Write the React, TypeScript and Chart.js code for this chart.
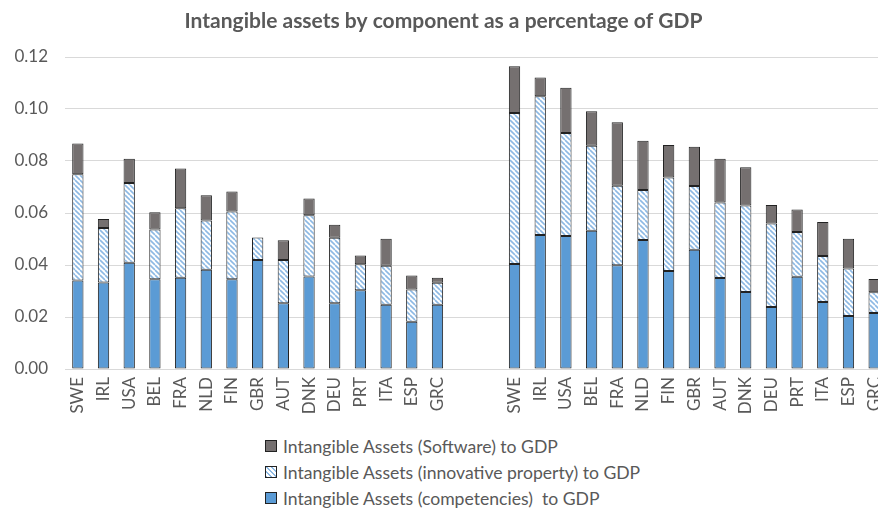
import React, { useEffect, useRef } from "react";
import { Chart, registerables } from "chart.js";

Chart.register(...registerables);

const countries = ["SWE", "IRL", "USA", "BEL", "FRA", "NLD", "FIN", "GBR", "AUT", "DNK", "DEU", "PRT", "ITA", "ESP", "GRC"];
const gapLabels = ["", ""];

// Left group
const compLeft = [0.0340, 0.0333, 0.0409, 0.0345, 0.0351, 0.0382, 0.0345, 0.0419, 0.0253, 0.0356, 0.0253, 0.0303, 0.0247, 0.0182, 0.0247];
const innovLeft = [0.0409, 0.0209, 0.0306, 0.0192, 0.0267, 0.0189, 0.0261, 0.0087, 0.0166, 0.0235, 0.0252, 0.0100, 0.0150, 0.0124, 0.0085];
const softLeft = [0.0118, 0.0035, 0.0094, 0.0066, 0.0153, 0.0097, 0.0077, 0.0000, 0.0076, 0.0065, 0.0050, 0.0034, 0.0104, 0.0054, 0.0019];

// Right group
const compRight = [0.0404, 0.0515, 0.0512, 0.0532, 0.0399, 0.0496, 0.0377, 0.0459, 0.0350, 0.0296, 0.0238, 0.0355, 0.0258, 0.0204, 0.0215];
const innovRight = [0.0581, 0.0534, 0.0396, 0.0327, 0.0306, 0.0192, 0.0360, 0.0245, 0.0290, 0.0333, 0.0322, 0.0172, 0.0177, 0.0183, 0.0080];
const softRight = [0.0179, 0.0072, 0.0174, 0.0132, 0.0244, 0.0190, 0.0125, 0.0151, 0.0169, 0.0147, 0.0071, 0.0086, 0.0130, 0.0114, 0.0051];

const yTicks = [0, 0.02, 0.04, 0.06, 0.08, 0.1, 0.12];

const titleText = "Intangible assets by component as a percentage of GDP";
const seriesNames = [
  "Intangible Assets (Software) to GDP",
  "Intangible Assets (innovative property) to GDP",
  "Intangible Assets (competencies)  to GDP",
];

const BLUE = "#5B9BD5";
const GREY = "#757070";
const HATCH = "#8DB9E4";
const EDGE = "#222222";
const TEXT = "#595959";
const FONT = "Lato, 'Liberation Sans', sans-serif";

function makeHatch(): CanvasPattern | string {
  const c = document.createElement("canvas");
  c.width = 5;
  c.height = 5;
  const ctx = c.getContext("2d");
  if (!ctx) return HATCH;
  ctx.fillStyle = "#ffffff";
  ctx.fillRect(0, 0, 5, 5);
  ctx.strokeStyle = HATCH;
  ctx.lineWidth = 1.6;
  ctx.beginPath();
  for (const k of [-5, 0, 5]) {
    ctx.moveTo(k, 0);
    ctx.lineTo(k + 5, 5);
  }
  ctx.stroke();
  const p = ctx.createPattern(c, "repeat");
  return p || HATCH;
}

export default function App() {
  const ref = useRef<HTMLCanvasElement | null>(null);

  useEffect(() => {
    if (!ref.current) return;
    const labels = [...countries, ...gapLabels, ...countries];
    const gapNull = gapLabels.map(() => null);
    const hatch = makeHatch();
    const common = {
      borderColor: EDGE,
      borderWidth: 1,
      borderSkipped: false as const,
      barPercentage: 0.44,
      categoryPercentage: 1,
    };
    const chart = new Chart(ref.current, {
      type: "bar",
      data: {
        labels,
        datasets: [
          { label: seriesNames[2], data: [...compLeft, ...gapNull, ...compRight], backgroundColor: BLUE, ...common },
          { label: seriesNames[1], data: [...innovLeft, ...gapNull, ...innovRight], backgroundColor: hatch as any, ...common },
          { label: seriesNames[0], data: [...softLeft, ...gapNull, ...softRight], backgroundColor: GREY, ...common },
        ],
      },
      options: {
        responsive: false,
        animation: false,
        devicePixelRatio: 1,
        layout: { padding: { left: 0, right: 17, top: 0, bottom: 0 } },
        plugins: {
          legend: { display: false },
          tooltip: { enabled: false },
          title: {
            display: true,
            text: titleText,
            color: TEXT,
            font: { family: FONT, size: 21, weight: "bold" },
            padding: { top: 9, bottom: 22.8 },
          },
        },
        scales: {
          x: {
            stacked: true,
            grid: { display: false, drawTicks: false },
            border: { display: false },
            ticks: {
              autoSkip: false,
              maxRotation: 90,
              minRotation: 90,
              padding: 8,
              color: TEXT,
              font: { family: FONT, size: 17 },
            },
            afterFit: (s: any) => {
              s.height = 56;
            },
          },
          y: {
            stacked: true,
            min: 0,
            max: 0.12,
            afterBuildTicks: (s: any) => {
              s.ticks = yTicks.map((v) => ({ value: v }));
            },
            grid: { color: "#d9d9d9", drawTicks: false, lineWidth: 1 },
            border: { display: false },
            ticks: {
              padding: 17,
              color: TEXT,
              font: { family: FONT, size: 17 },
              callback: (v: any) => Number(v).toFixed(2),
            },
            afterFit: (s: any) => {
              s.width = 65;
            },
          },
        },
      },
    });
    return () => chart.destroy();
  }, []);

  const swatches = [
    { name: seriesNames[0], bg: GREY },
    { name: seriesNames[1], bg: `repeating-linear-gradient(45deg, ${HATCH} 0 1.2px, #ffffff 1.2px 3.5px)` },
    { name: seriesNames[2], bg: BLUE },
  ];

  return (
    <div style={{ position: "fixed", left: 0, top: 0, width: 878, height: 511, overflow: "hidden", background: "#fff" }}>
      <canvas ref={ref} width={904} height={425} style={{ display: "block", width: 904, height: 425 }} />
      <div style={{ position: "absolute", left: 265, top: 433, fontFamily: FONT, fontSize: 17.6, color: TEXT }}>
        {swatches.map((s) => (
          <div key={s.name} style={{ display: "flex", alignItems: "center", height: 26, whiteSpace: "pre" }}>
            <span style={{ display: "inline-block", width: 10, height: 10, border: `1px solid ${EDGE}`, background: s.bg, marginRight: 6 }} />
            <span>{s.name}</span>
          </div>
        ))}
      </div>
    </div>
  );
}
